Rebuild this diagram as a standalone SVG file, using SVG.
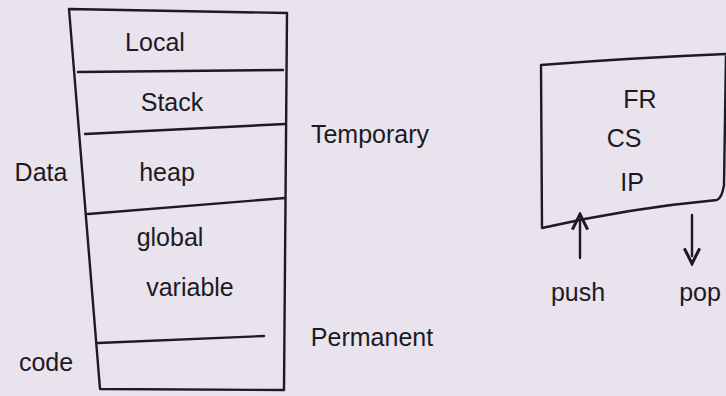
<svg xmlns="http://www.w3.org/2000/svg" width="726" height="396" viewBox="0 0 726 396">
<style>
.ln{fill:none;stroke:#1c1a22;stroke-width:2.4;stroke-linecap:round;stroke-linejoin:round}
.t{font-family:"Liberation Sans","DejaVu Sans",sans-serif;font-size:25px;fill:#1c1a22;text-anchor:middle}
</style>
<defs>
<marker id="ah" viewBox="0 0 10 10" refX="5" refY="5" markerWidth="8" markerHeight="8" orient="auto-start-reverse">
<path d="M1,1 L9,5 L1,9" fill="none" stroke="#1c1a22" stroke-width="1.6"/>
</marker>
</defs>
<rect width="726" height="396" fill="#e9e3ee"/>
<g id="memory">
<path class="ln" d="M69,9 L287,13 L284,390 L100,389 Z"/>
<path class="ln" d="M78,72 L283,70"/>
<path class="ln" d="M85,134 L285,124"/>
<path class="ln" d="M88,214 L285,198"/>
<path class="ln" d="M98,343 L264,336"/>
<text class="t" x="155" y="51">Local</text>
<text class="t" x="172" y="111">Stack</text>
<text class="t" x="167" y="181">heap</text>
<text class="t" x="170" y="246">global</text>
<text class="t" x="190" y="296">variable</text>
</g>
<g id="labels">
<text class="t" x="41" y="181">Data</text>
<text class="t" x="46" y="371">code</text>
<text class="t" x="370" y="143">Temporary</text>
<text class="t" x="372" y="346">Permanent</text>
</g>
<g id="registers">
<path class="ln" d="M541,65 Q630,58 726,54 L724,185 Q722,198 717,200 Q630,208 542,228 Z"/>
<text class="t" x="640" y="108">FR</text>
<text class="t" x="624" y="147">CS</text>
<text class="t" x="632" y="191">IP</text>
</g>
<g id="connectors">
<path class="ln" d="M580,258 L580,222" marker-end="url(#ah)"/>
<path class="ln" d="M692,215 L692,256" marker-end="url(#ah)"/>
</g>
<g id="ops">
<text class="t" x="578" y="301">push</text>
<text class="t" x="700" y="301">pop</text>
</g>
</svg>
